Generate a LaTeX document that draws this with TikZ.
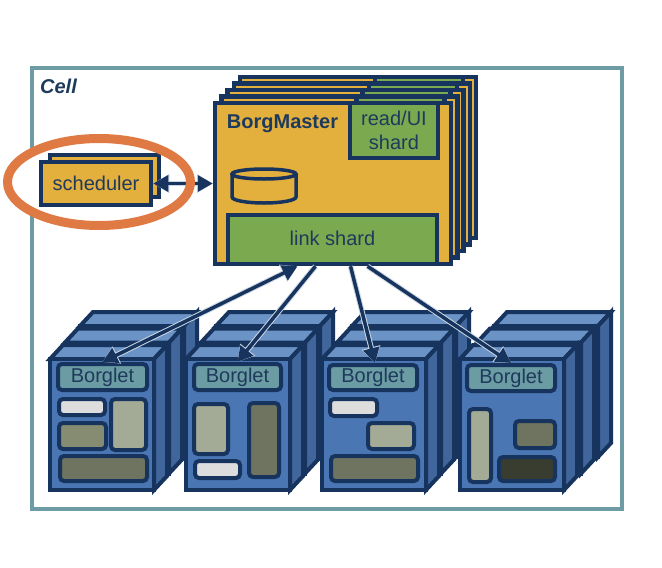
\documentclass[tikz,border=0pt]{standalone}
\usepackage{fontspec}
\setmainfont{Liberation Sans}
\usetikzlibrary{arrows.meta}
\definecolor{ink}{HTML}{17345F}
\definecolor{txt}{HTML}{1E3A5C}
\definecolor{gold}{HTML}{E3AF3D}
\definecolor{grn}{HTML}{7BA950}
\definecolor{frame}{HTML}{6E9CA5}
\definecolor{orng}{HTML}{E07A45}
\definecolor{blufront}{HTML}{4A76B4}
\definecolor{bluside}{HTML}{41669B}
\definecolor{blutop}{HTML}{6B93C6}
\definecolor{tealb}{HTML}{6B9BA3}
\definecolor{twhite}{HTML}{DDDDDD}
\definecolor{tlight}{HTML}{A3AB97}
\definecolor{tmid}{HTML}{868C72}
\definecolor{tdark}{HTML}{6E745F}
\definecolor{tblack}{HTML}{383D30}
\definecolor{halo}{HTML}{C9D6E2}
\tikzset{
  x=1pt,y=-1pt,
  every node/.style={font=\fontsize{20}{24}\selectfont,text=txt,inner sep=0pt},
  goldbox/.style={draw=ink,fill=gold,line width=4.5pt},
  grnbox/.style={draw=ink,fill=grn,line width=4.5pt},
  labelbox/.style={draw=ink,fill=tealb,line width=4pt,rounded corners=4pt},
  taskbox/.style={draw=ink,line width=4pt,rounded corners=4pt},
  facebox/.style={draw=ink,line width=4pt,line join=miter},
  conn/.style={draw=ink,line width=3.5pt},
  connhalo/.style={draw=halo,line width=5.5pt},
  onetip/.style={-{Triangle[length=15pt,width=16pt]}},
  twotip/.style={{Triangle[length=15pt,width=16pt]}-{Triangle[length=15pt,width=16pt]}},
  onehalo/.style={-{Triangle[length=16pt,width=18pt]}},
  twohalo/.style={{Triangle[length=16pt,width=18pt]}-{Triangle[length=16pt,width=18pt]}},
}
\newcommand\BX[7][]{%
  \pgfmathsetmacro\bxw{#5-#3}\pgfmathsetmacro\bxh{#6-#4}%
  \pgfmathsetmacro\bxx{(#5+#3)/2}\pgfmathsetmacro\bxy{(#6+#4)/2}%
  \node[#1,minimum width=\bxw pt,minimum height=\bxh pt,align=center] (#2) at (\bxx,\bxy) {#7};}
\newcommand\CUBE[2]{%
  \pgfmathsetmacro\cxa{#1}\pgfmathsetmacro\cya{#2}%
  \pgfmathsetmacro\cxb{#1+104}\pgfmathsetmacro\cyb{#2+131}%
  \pgfmathsetmacro\cxc{#1+13}\pgfmathsetmacro\cxd{#1+117}%
  \pgfmathsetmacro\cyc{#2-14}\pgfmathsetmacro\cyd{#2+117}%
  \draw[facebox,fill=blutop] (\cxa,\cya)--(\cxc,\cyc)--(\cxd,\cyc)--(\cxb,\cya)--cycle;
  \draw[facebox,fill=bluside] (\cxb,\cya)--(\cxd,\cyc)--(\cxd,\cyd)--(\cxb,\cyb)--cycle;
  \draw[facebox,fill=blufront] (\cxa,\cya) rectangle (\cxb,\cyb);}
\newcommand\STACK[2]{%
  \foreach \k in {2,1,0}{\pgfmathsetmacro\sx{#1+\k*#2}\pgfmathsetmacro\sy{359-\k*16.5}\CUBE{\sx}{\sy}}}
\newcommand\TK[6]{%
  \pgfmathsetmacro\ta{#2+2}\pgfmathsetmacro\tb{#3+2}\pgfmathsetmacro\tc{#4-2}\pgfmathsetmacro\td{#5-2}%
  \BX[taskbox,fill=#6]{#1}{\ta}{\tb}{\tc}{\td}{}}
\begin{document}
\begin{tikzpicture}
\useasboundingbox (0,0) rectangle (662,568);
\fill[white] (0,0) rectangle (662,568);
% cell frame
\BX[draw=frame,line width=4pt]{cell}{31.5}{68}{622}{509}{}
\node[font=\fontsize{20}{24}\selectfont\bfseries\itshape] (celltext) at (58.5,86) {Cell};
% borglet stacks
\STACK{50}{15}
\STACK{186}{15}
\STACK{322}{15}
\STACK{460}{17}
% borglet labels
\BX[labelbox]{bl1}{58}{364}{147}{390}{Borglet}
\BX[labelbox]{bl2}{194}{364}{281}{390}{Borglet}
\BX[labelbox]{bl3}{329}{365}{417}{390}{Borglet}
\BX[labelbox]{bl4}{467}{365}{555}{391}{Borglet}
% tasks
\TK{t11}{57}{397}{107}{417}{twhite}
\TK{t12}{109}{397}{148}{452}{tlight}
\TK{t13}{57}{421}{108}{451}{tmid}
\TK{t14}{58}{454}{149}{483}{tdark}
\TK{t21}{192}{402}{230}{456}{tlight}
\TK{t22}{247}{401}{281}{479}{tdark}
\TK{t23}{193}{459}{242}{480}{twhite}
\TK{t31}{328}{397}{379}{418}{twhite}
\TK{t32}{366}{421}{416}{451}{tlight}
\TK{t33}{329}{454}{420}{483}{tdark}
\TK{t41}{467}{407}{493}{484}{tlight}
\TK{t42}{513}{419}{557}{450}{tdark}
\TK{t43}{497}{455}{557}{483}{tblack}
% borgmaster stack
\foreach \k in {4,3,2,1}{%
  \pgfmathsetmacro\ax{215+\k*6.3}\pgfmathsetmacro\ay{103-\k*6.5}%
  \pgfmathsetmacro\bx{451+\k*6.3}\pgfmathsetmacro\by{264-\k*6.5}%
  \pgfmathsetmacro\cx{350+\k*6.3}\pgfmathsetmacro\dx{438+\k*6.3}\pgfmathsetmacro\dy{158-\k*6.5}%
  \BX[goldbox]{bmback\k}{\ax}{\ay}{\bx}{\by}{}
  \BX[grnbox]{rdback\k}{\cx}{\ay}{\dx}{\dy}{}
}
\BX[goldbox]{bm}{215}{103}{451}{264}{}
\BX[grnbox]{read}{350}{103}{438}{158}{\raisebox{1pt}{read/UI}\\\raisebox{1pt}{shard}}
\BX[grnbox]{link}{228}{215}{437}{264}{\raisebox{2pt}{link shard}}
\node[font=\fontsize{20}{24}\selectfont\bfseries] (bmtext) at (282.5,124) {BorgMaster};
% database cylinder
\draw[draw=ink,fill=gold,line width=3.5pt] (232,174) -- (232,197) arc[start angle=180,end angle=360,x radius=32,y radius=-6] -- (296,174);
\draw[draw=ink,fill=gold,line width=3.5pt] (264,174) ellipse[x radius=32,y radius=5];
% ellipse interior
\fill[white] (99,182) ellipse[x radius=92,y radius=44];
% scheduler
\BX[goldbox]{schedback}{50}{155}{159}{197}{}
\BX[goldbox]{sched}{41}{162}{151}{205}{scheduler}
% connectors
\draw[connhalo,twohalo] (sched.east) -- (bm.west);
\draw[conn,twotip] (sched.east) -- (bm.west);
\draw[connhalo,twohalo] ([xshift=-35pt]link.south) -- (bl1.north);
\draw[conn,twotip] ([xshift=-35pt]link.south) -- (bl1.north);
\draw[connhalo,onehalo] ([xshift=-17pt]link.south) -- (bl2.north);
\draw[conn,onetip] ([xshift=-17pt]link.south) -- (bl2.north);
\draw[connhalo,onehalo] ([xshift=18pt]link.south) -- ([xshift=2pt]bl3.north);
\draw[conn,onetip] ([xshift=18pt]link.south) -- ([xshift=2pt]bl3.north);
\draw[connhalo,onehalo] ([xshift=35pt]link.south) -- (bl4.north);
\draw[conn,onetip] ([xshift=35pt]link.south) -- (bl4.north);
% highlight ellipse
\draw[orng,line width=9pt] (99,182) ellipse[x radius=91.5,y radius=43.5];
\end{tikzpicture}
\end{document}
